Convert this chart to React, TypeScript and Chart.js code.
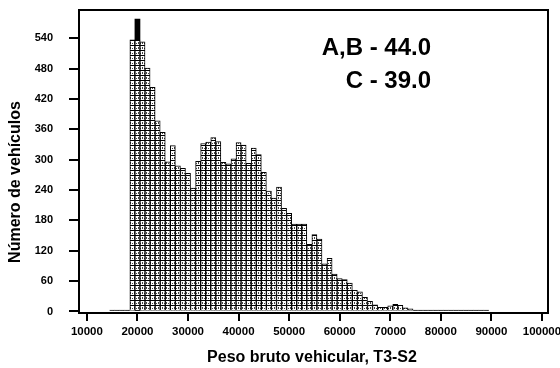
import { useEffect, useRef } from "react";
import { Chart, registerables } from "chart.js";

Chart.register(...registerables);

// Bin centres (kg) of the gross-weight histogram
const pesoBruto = [
  15000, 16000, 17000, 18000, 19000, 20000, 21000, 22000, 23000, 24000,
  25000, 26000, 27000, 28000, 29000, 30000, 31000, 32000, 33000, 34000,
  35000, 36000, 37000, 38000, 39000, 40000, 41000, 42000, 43000, 44000,
  45000, 46000, 47000, 48000, 49000, 50000, 51000, 52000, 53000, 54000,
  55000, 56000, 57000, 58000, 59000, 60000, 61000, 62000, 63000, 64000,
  65000, 66000, 67000, 68000, 69000, 70000, 71000, 72000, 73000, 74000,
  75000, 76000, 77000, 78000, 79000, 80000, 81000, 82000, 83000, 84000,
  85000, 86000, 87000, 88000, 89000,
];

// Vehicle count in each bin
const vehiculos = [
  3, 3, 3, 3, 537, 537, 533, 481, 443, 377,
  354, 296, 328, 288, 283, 273, 244, 297, 332, 335,
  344, 336, 295, 292, 302, 334, 329, 293, 323, 310,
  275, 238, 224, 246, 204, 194, 173, 173, 173, 133,
  152, 143, 94, 105, 74, 65, 63, 56, 42, 39,
  28, 20, 13, 8, 8, 11, 14, 12, 7, 5,
  3, 3, 3, 3, 3, 3, 3, 3, 3, 3,
  3, 3, 3, 3, 3,
];

// Solid marker bar
const marcaPeso = [20000];
const marcaAltura = [578];

const yTicks = [0, 60, 120, 180, 240, 300, 360, 420, 480, 540];
const xTicks = [10000, 20000, 30000, 40000, 50000, 60000, 70000, 80000, 90000, 100000];

const tituloX = "Peso bruto vehicular, T3-S2";
const tituloY = "Número de vehículos";
const notas = ["A,B - 44.0", "C - 39.0"];

const FONT = "'Liberation Sans', Arial, sans-serif";

function makeHatch(): CanvasPattern | string {
  const tile = document.createElement("canvas");
  tile.width = 4;
  tile.height = 5;
  const c = tile.getContext("2d");
  if (!c) return "#ffffff";
  c.fillStyle = "#ffffff";
  c.fillRect(0, 0, 4, 5);
  c.fillStyle = "#000000";
  c.fillRect(0, 0, 4, 1);
  c.fillStyle = "#444444";
  c.fillRect(2, 2, 1, 2);
  c.fillRect(0, 3, 1, 1);
  const p = c.createPattern(tile, "repeat");
  return p ?? "#ffffff";
}

const framePlugin = {
  id: "frameAndText",
  afterDraw(chart: Chart) {
    const { ctx, chartArea } = chart;
    ctx.save();
    ctx.strokeStyle = "#000";
    ctx.lineWidth = 2;
    ctx.strokeRect(chartArea.left, chartArea.top, chartArea.right - chartArea.left, chartArea.bottom - chartArea.top);

    ctx.fillStyle = "#000";
    ctx.textBaseline = "middle";

    // x axis title
    ctx.font = `bold 16px ${FONT}`;
    ctx.textAlign = "center";
    ctx.fillText(tituloX, 312, 358);

    // y axis title
    ctx.save();
    ctx.translate(16, 182);
    ctx.rotate(-Math.PI / 2);
    ctx.fillText(tituloY, 0, 0);
    ctx.restore();

    // weight limits note
    ctx.font = `bold 24px ${FONT}`;
    ctx.textAlign = "right";
    ctx.fillText(notas[0], 431, 48);
    ctx.fillText(notas[1], 431, 81);
    ctx.restore();
  },
};

export default function App() {
  const ref = useRef<HTMLCanvasElement | null>(null);

  useEffect(() => {
    if (!ref.current) return;
    const hatch = makeHatch();
    const chart = new Chart(ref.current, {
      type: "bar",
      data: {
        datasets: [
          {
            data: pesoBruto.map((x, i) => ({ x, y: vehiculos[i] })),
            backgroundColor: hatch as any,
            borderColor: "#000",
            borderWidth: 1,
            barPercentage: 1,
            categoryPercentage: 1,
            grouped: false,
            order: 1,
          },
          {
            data: marcaPeso.map((x, i) => ({ x, y: marcaAltura[i] })),
            backgroundColor: "#000",
            borderWidth: 0,
            barPercentage: 1,
            categoryPercentage: 1,
            grouped: false,
            order: 2,
          },
        ],
      },
      options: {
        animation: false,
        responsive: false,
        devicePixelRatio: 1,
        layout: { padding: { top: 10, right: 12, left: 0, bottom: 0 } },
        plugins: { legend: { display: false }, tooltip: { enabled: false } },
        scales: {
          x: {
            type: "linear",
            min: 8440,
            max: 101200,
            offset: false,
            border: { display: false },
            grid: {
              display: true,
              offset: false,
              drawOnChartArea: false,
              drawTicks: true,
              tickLength: 8,
              color: "#000",
              lineWidth: 2,
            },
            ticks: {
              color: "#000",
              font: { family: FONT, size: 11.5, weight: "bold" },
              padding: 4,
              maxRotation: 0,
              autoSkip: false,
              callback: (v: any) => String(v),
            },
            afterBuildTicks: (axis: any) => {
              axis.ticks = xTicks.map((value) => ({ value }));
            },
            afterFit: (axis: any) => {
              axis.height = 55;
              axis.paddingLeft = 0;
              axis.paddingRight = 0;
            },
          },
          y: {
            type: "linear",
            min: -3,
            max: 596,
            border: { display: false },
            grid: {
              display: true,
              drawOnChartArea: false,
              drawTicks: true,
              tickLength: 10,
              color: "#000",
              lineWidth: 2,
            },
            ticks: {
              color: "#000",
              font: { family: FONT, size: 11, weight: "bold" },
              padding: 16,
              callback: (v: any) => String(v),
            },
            afterBuildTicks: (axis: any) => {
              axis.ticks = yTicks.map((value) => ({ value }));
            },
            afterFit: (axis: any) => {
              axis.width = 79;
              axis.paddingTop = 0;
              axis.paddingBottom = 0;
            },
          },
        },
      },
      plugins: [framePlugin],
    });
    return () => chart.destroy();
  }, []);

  return (
    <div style={{ position: "absolute", left: 0, top: 0, width: 560, height: 368, background: "#fff" }}>
      <canvas ref={ref} width={560} height={368} style={{ display: "block" }} />
    </div>
  );
}
